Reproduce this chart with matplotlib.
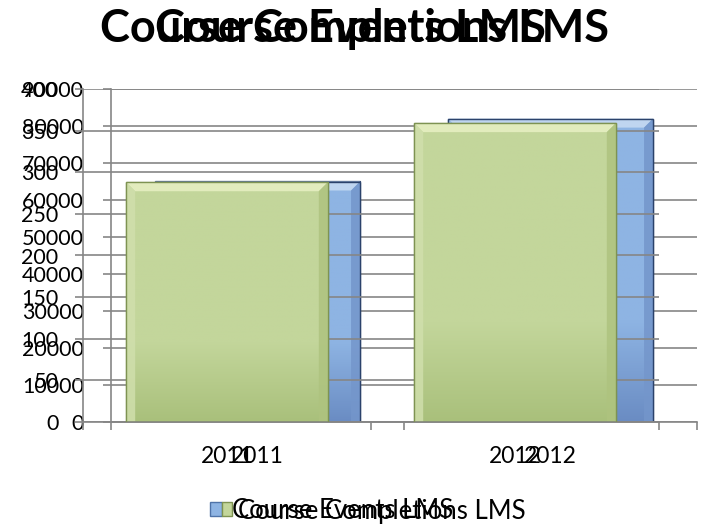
import matplotlib
matplotlib.use('Agg')
import matplotlib.pyplot as plt
import matplotlib.patches as mpatches
from matplotlib.colors import LinearSegmentedColormap
from matplotlib.transforms import IdentityTransform
import numpy as np

plt.rcParams['font.family'] = ['Lato', 'DejaVu Sans']

# data
years = ['2011', '2012']
completions = [288, 359]          # green, left axis 0-400
events = [65000, 82000]           # blue, axis 0-90000

completion_ticks = list(range(0, 401, 50))
event_ticks = list(range(0, 90001, 10000))

GRID = '#868686'
W, H = 704, 524

fig = plt.figure(figsize=(W / 100, H / 100), dpi=100)
fig.patch.set_facecolor('white')

ax_b = fig.add_axes([111 / W, 102 / H, 586 / W, 333 / H])
ax_g = fig.add_axes([83 / W, 102 / H, 576 / W, 333 / H])
ax_g.patch.set_visible(False)


def style_axis(ax, ticks, ypad):
    ax.set_xlim(-0.5, 1.5)
    ax.set_ylim(ticks[0], ticks[-1])
    ax.set_yticks(ticks)
    ax.set_yticklabels([str(t) for t in ticks])
    ax.set_xticks([-0.5, 0.5, 1.5])
    ax.set_xticklabels(['', '', ''])
    ax.set_xticks([0, 1], labels=years, minor=True)
    ax.set_axisbelow(True)
    ax.grid(axis='y', color=GRID, linewidth=1.2)
    for s in ['top', 'right']:
        ax.spines[s].set_visible(False)
    for s in ['left', 'bottom']:
        ax.spines[s].set_color(GRID)
        ax.spines[s].set_linewidth(1.2)
    ax.tick_params(axis='both', which='major', direction='out', length=5.8,
                   width=1.2, color=GRID, labelcolor='black')
    ax.tick_params(axis='y', labelsize=15.5, pad=ypad)
    ax.tick_params(axis='x', which='minor', length=0, labelsize=16.5, pad=17)


def fancy_bars(ax, vals, face, low, light, side, right, edge):
    bars = ax.bar([0, 1], vals, width=0.7, color=face, edgecolor=edge,
                  linewidth=0.9, zorder=2)
    cmap = LinearSegmentedColormap.from_list('g', [low, face, face, face])
    grad = np.linspace(0, 1, 256).reshape(-1, 1)
    b = 9
    for r in bars:
        x0, w, h = r.get_x(), r.get_width(), r.get_height()
        im = ax.imshow(grad, extent=[x0, x0 + w, 0, h], origin='lower',
                       cmap=cmap, aspect='auto', zorder=2.2)
        im.set_clip_path(r)
        (px0, py0), (px1, py1) = ax.transData.transform([(x0, 0), (x0 + w, h)])
        polys = [
            ([(px0, py1), (px1, py1), (px1 - b, py1 - b), (px0 + b, py1 - b)], light),
            ([(px0, py0), (px0, py1), (px0 + b, py1 - b), (px0 + b, py0)], side),
            ([(px1, py0), (px1, py1), (px1 - b, py1 - b), (px1 - b, py0)], right),
        ]
        for pts, c in polys:
            ax.add_patch(mpatches.Polygon(pts, closed=True, facecolor=c,
                                          edgecolor='none', alpha=0.85,
                                          transform=IdentityTransform(), zorder=2.4))
        ax.add_patch(mpatches.Rectangle((px0, py0), px1 - px0, py1 - py0,
                                        facecolor='none', edgecolor=edge, linewidth=1.0,
                                        transform=IdentityTransform(), zorder=2.6))
    ax.set_xlim(-0.5, 1.5)
    return bars


style_axis(ax_b, event_ticks, 13.5)
style_axis(ax_g, completion_ticks, 12)

fancy_bars(ax_b, events, '#8EB4E3', '#6A8CC3', '#C8DCF3', '#A2C0E8',
           '#7496CB', '#2B426B')
ax_b.set_ylim(event_ticks[0], event_ticks[-1])
fancy_bars(ax_g, completions, '#C3D69B', '#A9C07B', '#E8F0C4', '#D0DFAC',
           '#AEC37F', '#7E9352')
ax_g.set_ylim(completion_ticks[0], completion_ticks[-1])

# overlapping titles of the two stacked charts
fig.text(100 / W, (H - 42) / H, 'Course Completions LMS', ha='left', va='baseline',
         fontsize=32.5, fontweight='bold')
fig.text(155 / W, (H - 42) / H, 'Course Events LMS', ha='left', va='baseline',
         fontsize=32.5, fontweight='bold')

# two legends on top of each other
blue_patch = mpatches.Patch(facecolor='#8EB4E3', edgecolor='#4F73A8', label='Course Events LMS')
green_patch = mpatches.Patch(facecolor='#C3D69B', edgecolor='#7E9352', label='Course Completions LMS')
fig.legend(handles=[blue_patch], loc='center left', bbox_to_anchor=(210 / W, (H - 511) / H),
           frameon=False, fontsize=18.5, handlelength=0.45, handleheight=0.45,
           handletextpad=0.4, borderpad=0, borderaxespad=0)
fig.legend(handles=[green_patch], loc='center left', bbox_to_anchor=(222 / W, (H - 511) / H),
           frameon=False, fontsize=18.5, handlelength=0.4, handleheight=0.45,
           handletextpad=0.22, borderpad=0, borderaxespad=0)

fig.savefig('out.png', dpi=100, facecolor='white')
plt.close(fig)
